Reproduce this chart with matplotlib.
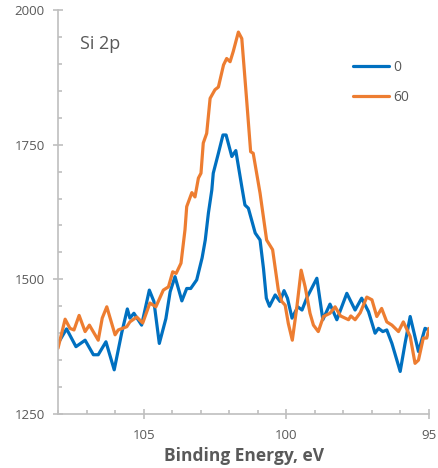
import matplotlib.pyplot as plt
from matplotlib.ticker import MultipleLocator

# Si 2p spectra
energy_0 = [108.0, 107.7, 107.37, 107.05, 106.76, 106.59, 106.32, 106.03, 105.77,
            105.57, 105.48, 105.34, 105.07, 104.8, 104.64, 104.45, 104.22, 104.07,
            103.9, 103.66, 103.49, 103.35, 103.14, 102.95, 102.84, 102.73, 102.61,
            102.56, 102.38, 102.22, 102.11, 101.91, 101.77, 101.56, 101.45, 101.33,
            101.09, 100.92, 100.8, 100.7, 100.59, 100.39, 100.22, 100.08, 99.96,
            99.8, 99.6, 99.45, 99.28, 98.93, 98.72, 98.47, 98.23, 97.88, 97.59,
            97.36, 97.12, 96.89, 96.77, 96.62, 96.48, 96.3, 96.01, 95.84, 95.66,
            95.37, 95.14, 95.0]
counts_0 = [1381, 1408, 1375, 1387, 1360, 1360, 1384, 1332, 1400,
            1445, 1428, 1437, 1415, 1480, 1459, 1381, 1427, 1477,
            1505, 1460, 1483, 1483, 1499, 1540, 1573, 1623, 1666,
            1697, 1734, 1768, 1768, 1728, 1739, 1672, 1638, 1632,
            1586, 1573, 1520, 1465, 1450, 1471, 1459, 1479, 1465,
            1428, 1449, 1443, 1466, 1502, 1425, 1454, 1425, 1474, 1443,
            1465, 1440, 1400, 1409, 1403, 1406, 1381, 1329, 1381, 1431,
            1366, 1409, 1406]

energy_60 = [108.0, 107.75, 107.58, 107.44, 107.26, 107.05, 106.9, 106.59, 106.45,
             106.29, 106.0, 105.89, 105.59, 105.48, 105.24, 105.03, 104.78, 104.57,
             104.31, 104.13, 103.98, 103.86, 103.69, 103.55, 103.49, 103.31, 103.2,
             103.08, 102.99, 102.91, 102.79, 102.67, 102.5, 102.38, 102.2, 102.09,
             101.97, 101.86, 101.68, 101.56, 101.39, 101.25, 101.16, 100.92, 100.69,
             100.48, 100.28, 100.16, 100.04, 99.93, 99.79, 99.63, 99.48, 99.34,
             99.17, 99.05, 98.88, 98.7, 98.47, 98.29, 98.1, 97.82, 97.74, 97.59,
             97.41, 97.18, 97.0, 96.83, 96.66, 96.48, 96.3, 96.07, 95.9, 95.66,
             95.49, 95.37, 95.2, 95.08, 95.0]
counts_60 = [1372, 1426, 1409, 1406, 1433, 1403, 1415, 1387, 1428,
             1449, 1397, 1406, 1412, 1421, 1430, 1419, 1456, 1449,
             1480, 1486, 1514, 1511, 1530, 1592, 1635, 1661, 1653,
             1688, 1697, 1753, 1771, 1836, 1852, 1857, 1898, 1910,
             1904, 1923, 1959, 1947, 1833, 1737, 1734, 1660, 1573,
             1555, 1480, 1459, 1452, 1418, 1387, 1449, 1517, 1486,
             1437, 1415, 1403, 1431, 1437, 1449, 1432, 1425, 1432, 1425,
             1438, 1467, 1462, 1431, 1446, 1421, 1415, 1403, 1421, 1394,
             1344, 1350, 1391, 1391, 1409]

series_names = ["0", "60"]

plt.rcParams['font.family'] = ['Open Sans', 'DejaVu Sans']

fig = plt.figure(figsize=(4.38, 4.68), dpi=100)
ax = fig.add_axes([0.1324, 0.1154, 0.8471, 0.8632])

ax.plot(energy_0, counts_0, color="#0070c0", lw=2.3, label=series_names[0],
        solid_joinstyle="round", solid_capstyle="round")
ax.plot(energy_60, counts_60, color="#ed7d31", lw=2.3, label=series_names[1],
        solid_joinstyle="round", solid_capstyle="round")

ax.set_xlim(108, 95)
ax.set_ylim(1250, 2000)
ax.xaxis.set_major_locator(MultipleLocator(5))
ax.xaxis.set_minor_locator(MultipleLocator(1))
ax.yaxis.set_major_locator(MultipleLocator(250))
ax.yaxis.set_minor_locator(MultipleLocator(50))

for side in ["top", "right"]:
    ax.spines[side].set_visible(False)
for side in ["left", "bottom"]:
    ax.spines[side].set_color("#bfbfbf")
    ax.spines[side].set_linewidth(1.2)

ax.tick_params(which="major", direction="inout", length=7, width=1.2,
               color="#bfbfbf", labelcolor="#595959", labelsize=9.5)
ax.tick_params(which="minor", direction="in", length=3, width=1.2, color="#bfbfbf")
ax.tick_params(axis="y", which="major", pad=6)
ax.tick_params(axis="x", which="major", pad=7)

ax.set_xlabel("Binding Energy, eV", fontsize=12.5, fontweight="bold",
              color="#595959", labelpad=4)

ax.text(0.06, 0.915, "Si 2p", transform=ax.transAxes, fontsize=13,
        color="#595959", va="center", ha="left")

leg = ax.legend(loc="upper left", bbox_to_anchor=(0.795, 0.877), frameon=False,
                fontsize=10, handlelength=2.6, labelspacing=1.1,
                handletextpad=0.3, borderaxespad=0, borderpad=0)
for t in leg.get_texts():
    t.set_color("#595959")

fig.savefig("out.png", dpi=100)
